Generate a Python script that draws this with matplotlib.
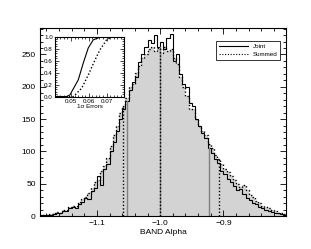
import numpy as np
import matplotlib.pyplot as plt
from matplotlib.ticker import MultipleLocator, AutoMinorLocator

plt.rcParams['font.family'] = ['Liberation Sans', 'DejaVu Sans']

# histogram bins (BAND alpha)
bin_lo = -1.19
bin_w = 0.005
joint = [1, 1, 2, 1, 3, 4, 5, 8, 7, 12,
         14, 13, 18, 22, 28, 27, 38, 44, 62, 48,
         73, 80, 100, 115, 132, 150, 165, 178, 195, 208,
         215, 238, 250, 262, 272, 268, 280, 262, 270, 258,
         275, 282, 240, 250, 220, 205, 200, 175, 170, 150,
         140, 128, 120, 105, 98, 88, 82, 70, 65, 58,
         52, 46, 40, 42, 34, 28, 25, 20, 18, 14,
         12, 10, 8, 6, 5, 4, 3, 2]
summed = [2, 1, 2, 3, 4, 6, 5, 9, 10, 14,
          16, 15, 22, 26, 30, 36, 44, 52, 55, 70,
          78, 90, 108, 125, 140, 160, 170, 182, 200, 205,
          222, 232, 245, 250, 258, 262, 255, 260, 252, 262,
          255, 258, 245, 235, 215, 200, 185, 165, 165, 150,
          140, 132, 125, 112, 105, 95, 88, 80, 72, 68,
          62, 55, 50, 45, 48, 40, 32, 30, 24, 20,
          16, 14, 12, 9, 7, 5, 4, 3]

# median and 1 sigma bounds
joint_lines = [-1.053, -1.0, -0.922]
summed_lines = [-1.058, -1.0, -0.907]

# inset: cumulative distribution of 1 sigma errors
cdf_joint_x = [0.041, 0.0476, 0.0494, 0.0541, 0.0569, 0.0597, 0.0625, 0.0663, 0.069, 0.080]
cdf_joint_y = [0.0, 0.0, 0.03, 0.28, 0.56, 0.81, 0.945, 0.99, 1.0, 1.0]
cdf_summed_x = [0.041, 0.0513, 0.056, 0.0597, 0.0635, 0.0663, 0.070, 0.0729, 0.075, 0.080]
cdf_summed_y = [0.0, 0.0, 0.14, 0.36, 0.61, 0.78, 0.945, 0.99, 1.0, 1.0]

joint = np.array(joint)
summed = np.array(summed)
edges = bin_lo + bin_w * np.arange(len(joint) + 1)

fig = plt.figure(figsize=(3.11, 2.49), dpi=100)
ax = fig.add_axes([0.1286, 0.1325, 0.791, 0.755])

ax.stairs(summed, edges, fill=True, color='#d3d3d3', lw=0)
ax.stairs(summed, edges, color='black', lw=1.0, ls=(0, (1, 1.5)), label='Summed')
ax.stairs(joint, edges, color='black', lw=0.8, label='Joint')


def height_at(vals, x):
    i = np.clip(np.searchsorted(edges, x) - 1, 0, len(vals) - 1)
    return vals[i]


for x in joint_lines:
    ax.plot([x, x], [0, height_at(joint, x)], color='#808080', lw=1.0)
for x in summed_lines:
    ax.plot([x, x], [0, height_at(summed, x)], color='black', lw=1.0, ls=(0, (1, 1.5)))

ax.set_xlim(-1.19, -0.801)
ax.set_ylim(0, 291)
ax.xaxis.set_major_locator(MultipleLocator(0.1))
ax.xaxis.set_minor_locator(AutoMinorLocator(5))
ax.yaxis.set_major_locator(MultipleLocator(50))
ax.yaxis.set_minor_locator(AutoMinorLocator(5))
ax.xaxis.set_major_formatter(plt.FuncFormatter(lambda v, p: f'{v:.1f}'.replace('-', '\u2212')))
ax.tick_params(which='both', direction='in', top=True, right=True, labelsize=6, width=0.6)
ax.tick_params(which='major', length=4, pad=3)
ax.tick_params(which='minor', length=2)
for s in ax.spines.values():
    s.set_linewidth(0.8)
ax.set_xlabel('BAND Alpha', fontsize=6, labelpad=1)

handles, labels = ax.get_legend_handles_labels()
leg = ax.legend(handles[::-1], labels[::-1], loc='upper right', fontsize=4.5, frameon=True,
                fancybox=False, edgecolor='black', handlelength=4.5, borderpad=0.5,
                bbox_to_anchor=(0.99, 0.95), labelspacing=0.4)
leg.get_frame().set_linewidth(0.7)
for h in leg.get_lines():
    h.set_linewidth(0.8)

# inset
ins = fig.add_axes([0.177, 0.612, 0.222, 0.241])
ins.plot(cdf_joint_x, cdf_joint_y, color='black', lw=0.8)
ins.plot(cdf_summed_x, cdf_summed_y, color='black', lw=1.0, ls=(0, (1, 1.5)))
ins.set_xlim(0.041, 0.0799)
ins.set_ylim(0, 1.0)
ins.xaxis.set_major_locator(MultipleLocator(0.01))
ins.xaxis.set_minor_locator(AutoMinorLocator(5))
ins.yaxis.set_major_locator(MultipleLocator(0.2))
ins.yaxis.set_minor_locator(AutoMinorLocator(5))
ins.tick_params(which='both', direction='in', top=True, right=True, labelsize=4.5, width=0.5, pad=1.5)
ins.tick_params(which='major', length=3)
ins.tick_params(which='minor', length=1.5)
for s in ins.spines.values():
    s.set_linewidth(0.8)
ins.set_xlabel('1\u03c3 Errors', fontsize=4.5, labelpad=0.5)

fig.savefig('out.png', dpi=100)
